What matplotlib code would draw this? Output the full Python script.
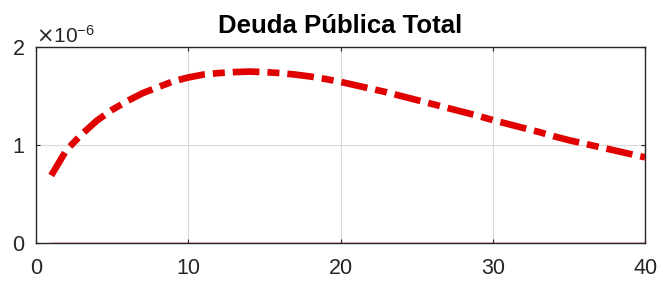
import numpy as np
import matplotlib.pyplot as plt
from matplotlib.ticker import ScalarFormatter

plt.rcParams['font.family'] = ['Liberation Sans', 'DejaVu Sans']

# periodos (trimestres) y respuesta de la deuda publica total
periodos = list(range(1, 41))
deuda = [0.69, 0.95, 1.11, 1.25, 1.36, 1.45, 1.53, 1.59, 1.65, 1.69,
         1.72, 1.735, 1.745, 1.75, 1.745, 1.735, 1.72, 1.70, 1.675, 1.645,
         1.61, 1.575, 1.54, 1.50, 1.46, 1.42, 1.38, 1.34, 1.30, 1.255,
         1.215, 1.175, 1.135, 1.09, 1.05, 1.015, 0.98, 0.945, 0.91, 0.875]
escala = 1e-6
estado_estacionario = [0.0] * len(periodos)

fig = plt.figure(figsize=(6.63, 2.82), dpi=100)
ax = fig.add_axes([0.0543, 0.138, 0.9187, 0.695])

y = np.array(deuda) * escala
ax.plot(periodos, estado_estacionario, color='#e00000', lw=1.0, zorder=3)
ax.plot(periodos, y, color='#e00000', lw=4.8,
        linestyle=(0, (4.0, 1.2, 1.8, 1.2)), dash_capstyle='butt', zorder=4)

ax.set_xlim(0, 40)
ax.set_ylim(0, 2e-6)
ax.set_xticks([0, 10, 20, 30, 40])
ax.set_yticks([0, 1e-6, 2e-6])

fmt = ScalarFormatter(useMathText=True)
fmt.set_powerlimits((0, 0))
ax.yaxis.set_major_formatter(fmt)
ax.yaxis.get_offset_text().set_fontsize(15)
ax.yaxis.get_offset_text().set_color('#404040')

ax.grid(True, color='#d9d9d9', lw=0.8)
ax.set_axisbelow(True)
ax.tick_params(direction='in', length=3, width=0.8, labelsize=15.5,
               colors='#262626', top=True, right=True)
ax.tick_params(axis='x', pad=11)
ax.tick_params(axis='y', pad=8)
for s in ax.spines.values():
    s.set_color('#262626')
    s.set_linewidth(1.0)

ax.set_title('Deuda Pública Total', fontsize=18.5, fontweight='bold', pad=10)

fig.savefig('out.png', dpi=100)
